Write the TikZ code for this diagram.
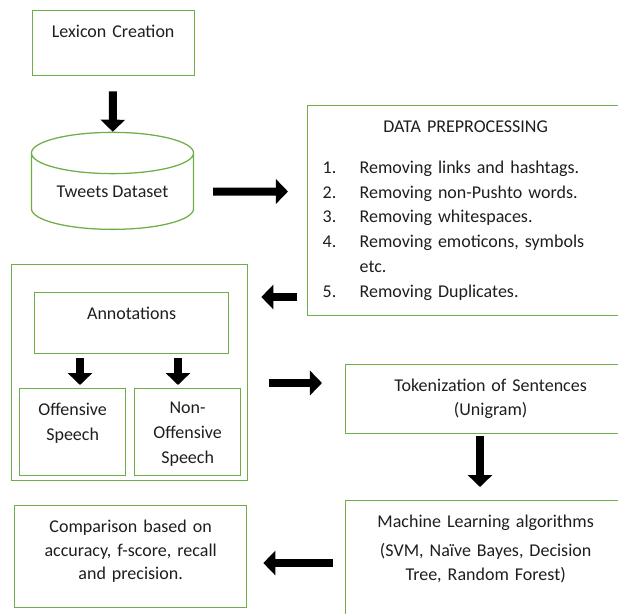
\documentclass[tikz,border=0pt]{standalone}
\usepackage{fontspec}
\setmainfont{Carlito}
\usepackage{tikz}
\usetikzlibrary{arrows.meta, positioning, calc, shapes.geometric}
\definecolor{boxgreen}{RGB}{112,173,71}
\definecolor{inkgray}{RGB}{30,30,30}
\tikzset{
  tbox/.style      = {draw=boxgreen, line width=0.9pt, anchor=north west,
                      inner sep=0pt, align=center, text=inkgray,
                      font=\fontsize{12.8}{16.7}\selectfont,
                      text height=0.675cm},
  listbox/.style   = {tbox, align=left,
                      font=\fontsize{12.8}{17.6}\selectfont},
  groupbox/.style  = {draw=boxgreen, line width=0.9pt, anchor=north west,
                      inner sep=0pt},
  dbcyl/.style     = {cylinder, shape border rotate=90, draw=boxgreen,
                      line width=0.9pt, minimum width=4.05cm,
                      minimum height=2.425cm, aspect=0.37, inner sep=0pt,
                      text=inkgray, font=\fontsize{12.8}{16.7}\selectfont},
  blockarrow/.style = {line width=0.2cm,
                      -{Triangle[length=0.3cm, width=0.6cm]}},
}
\newcommand{\stepitem}[2]{\hspace*{0.375cm}\makebox[0.925cm][l]{#1}#2}

\begin{document}
\begin{tikzpicture}[x=0.025cm, y=-0.025cm]
    \useasboundingbox (0,0) rectangle (618,613);
    \clip (0,0) rectangle (618,613);

    % --- left column ---
    \node[tbox, text width=4.05cm, text depth=0.95cm] (lex) at (31.5,10)
      {Lexicon Creation};
    \node[dbcyl] (db) at (112.5,191.5) {\raisebox{-0.1cm}{Tweets Dataset}};

    % --- preprocessing ---
    \node[listbox, text width=7.9cm, text depth=4.575cm] (prep) at (307,105)
      {\makebox[7.9cm]{DATA PREPROCESSING}\\[11.4pt]
       \stepitem{1.}{Removing links and hashtags.}\\
       \stepitem{2.}{Removing non-Pushto words.}\\
       \stepitem{3.}{Removing whitespaces.}\\
       \stepitem{4.}{Removing emoticons, symbols}\\
       \hspace*{1.3cm}etc.\\
       \stepitem{5.}{Removing Duplicates.}};

    % --- annotation group ---
    \node[groupbox, minimum width=5.9cm, minimum height=5.4cm] (grp)
      at (11,264) {};
    \node[tbox, text width=4.85cm, text depth=0.85cm] (ann) at (34,292)
      {Annotations};
    \node[tbox, text width=2.65cm, text depth=1.5cm,
          font=\fontsize{12.8}{18}\selectfont] (off) at (19,388)
      {Offensive\\Speech};
    \node[tbox, text width=2.65cm, text depth=1.55cm, text height=0.625cm,
          font=\fontsize{12.8}{17.7}\selectfont] (nonoff) at (134,388)
      {Non-\\Offensive\\Speech};

    % --- right column ---
    \node[tbox, text width=7.25cm, text depth=1.05cm] (tok) at (345,364)
      {Tokenization of Sentences\\(Unigram)};
    \node[tbox, text width=7.0cm, text depth=2.825cm] (ml) at (345,500)
      {Machine Learning algorithms\\[4pt]
       (SVM, Na\"ive Bayes, Decision\\Tree, Random Forest)};
    \node[tbox, text width=5.8cm, text depth=1.875cm] (cmp) at (14,505)
      {Comparison based on\\accuracy, f-score, recall\\and precision.};

    % --- arrows ---
    \draw[blockarrow, shorten <=0.375cm] (lex) -- (db);
    \draw[blockarrow, shorten <=0.475cm, shorten >=0.475cm]
      (db) -- (db -| prep.west);
    \draw[blockarrow, shorten <=0.25cm, shorten >=0.325cm]
      (prep.west |- 0,297) -- (grp.east |- 0,297);
    \draw[blockarrow, shorten <=0.1cm, shorten >=0.075cm]
      (ann.south -| 80,0) -- (off.north -| 80,0);
    \draw[blockarrow, shorten <=0.1cm, shorten >=0.075cm]
      (ann.south -| 178,0) -- (nonoff.north -| 178,0);
    \draw[blockarrow, shorten <=0.525cm, shorten >=0.575cm]
      (grp.east |- 0,383) -- (tok.west |- 0,383);
    \draw[blockarrow, shorten <=0.05cm, shorten >=0.325cm]
      (tok.south -| 480,0) -- (ml.north -| 480,0);
    \draw[blockarrow, shorten <=0.3cm, shorten >=0.4cm]
      (ml.west |- 0,563) -- (cmp.east |- 0,563);
\end{tikzpicture}
\end{document}
